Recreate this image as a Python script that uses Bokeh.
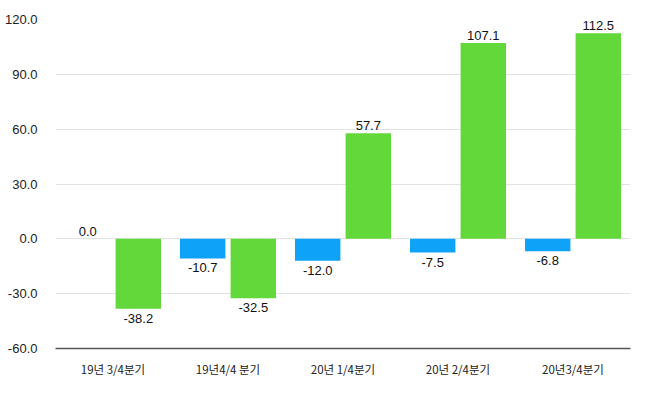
from bokeh.plotting import figure
from bokeh.models import ColumnDataSource, Range1d, FixedTicker, NumeralTickFormatter
from bokeh.transform import dodge
from bokeh.core.properties import value
from bokeh.embed import file_html
from bokeh.resources import INLINE

categories = ["19년 3/4분기", "19년4/4 분기", "20년 1/4분기", "20년 2/4분기", "20년3/4분기"]
series_a = [0.0, -10.7, -12.0, -7.5, -6.8]
series_b = [-38.2, -32.5, 57.7, 107.1, 112.5]
y_ticks = [-60, -30, 0, 30, 60, 90, 120]

BLUE = "#0ea2f8"
GREEN = "#62d83b"
FONT = "Liberation Sans"
KFONT = "Noto Sans CJK KR"

p = figure(x_range=categories, y_range=Range1d(-60, 120), width=634, height=379,
           output_backend="svg", toolbar_location=None,
           min_border_left=55, min_border_right=4, min_border_top=19, min_border_bottom=31)
p.outline_line_color = None
p.background_fill_color = "white"

src = ColumnDataSource(dict(cat=categories, a=series_a, b=series_b))

bw = 0.395
off = 0.22
p.vbar(x=dodge("cat", -off, range=p.x_range), top="a", bottom=0, width=bw, source=src,
       fill_color=BLUE, line_color=None)
p.vbar(x=dodge("cat", off, range=p.x_range), top="b", bottom=0, width=bw, source=src,
       fill_color=GREEN, line_color=None)

def label_sources(vals):
    pos = dict(cat=[], y=[], t=[])
    neg = dict(cat=[], y=[], t=[])
    for c, v in zip(categories, vals):
        d = pos if v >= 0 else neg
        d["cat"].append(c)
        d["y"].append(v)
        d["t"].append(f"{v:.1f}")
    return ColumnDataSource(pos), ColumnDataSource(neg)

for vals, o in ((series_a, -off), (series_b, off)):
    ps, ns = label_sources(vals)
    p.text(x=dodge("cat", o, range=p.x_range), y="y", text="t", source=ps,
           text_align="center", text_baseline="bottom", y_offset=-3,
           text_font=value(FONT), text_font_size="13px", text_color="#111111")
    p.text(x=dodge("cat", o, range=p.x_range), y="y", text="t", source=ns,
           text_align="center", text_baseline="top", y_offset=5,
           text_font=value(FONT), text_font_size="13px", text_color="#111111")

p.xgrid.grid_line_color = None
p.ygrid.grid_line_color = "#e2e2e2"
p.ygrid.grid_line_width = 1

p.yaxis.ticker = FixedTicker(ticks=y_ticks)
p.yaxis.formatter = NumeralTickFormatter(format="0.0")
p.yaxis.axis_line_color = None
p.yaxis.major_tick_line_color = None
p.yaxis.minor_tick_line_color = None
p.yaxis.major_label_text_font = FONT
p.yaxis.major_label_text_font_size = "13px"
p.yaxis.major_label_text_color = "#222222"
p.yaxis.major_label_standoff = 12

p.xaxis.axis_line_color = "#555555"
p.xaxis.axis_line_width = 1.5
p.xaxis.major_tick_line_color = None
p.xaxis.minor_tick_line_color = None
p.xaxis.major_label_text_font = KFONT
p.xaxis.major_label_text_font_size = "11.5px"
p.xaxis.major_label_text_color = "#222222"
p.xaxis.major_label_standoff = 6

open("out.html", "w").write(file_html(p, INLINE))
